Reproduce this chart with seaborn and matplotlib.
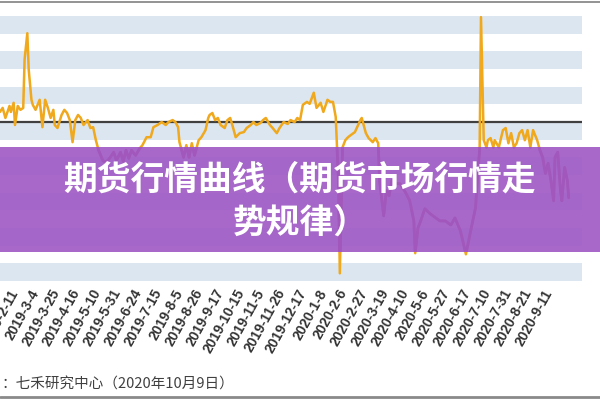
import matplotlib
matplotlib.use("Agg")
import matplotlib.pyplot as plt
import seaborn as sns
import pandas as pd
from matplotlib.patches import Rectangle
from matplotlib.lines import Line2D

# ---- data (trading-day index, spread value) ----
days = [-11, -9, -7, -4, -3, -1, 0, 2, 4, 6, 7, 9, 10, 12, 13, 15, 18, 20, 22, 24,
        26, 28, 29, 31, 34, 36, 38, 40, 42, 44, 46, 48, 50, 53, 55, 57, 59, 61, 64, 66,
        69, 72, 74, 77, 79, 81, 83, 85, 88, 91, 93, 96, 99, 101, 104, 107, 110, 112, 115, 117,
        119, 120, 123, 125, 127, 129, 131, 134, 136, 139, 141, 142, 144, 146, 148, 150, 153, 155, 157, 159,
        161, 164, 167, 169, 172, 174, 176, 179, 181, 183, 186, 188, 191, 193, 196, 199, 201, 204, 206, 208,
        210, 213, 215, 218, 220, 223, 225, 228, 230, 232, 234, 236, 237, 239, 241, 243, 245, 248, 250, 252,
        253, 256, 258, 261, 263, 265, 266, 269, 271, 273, 275, 277, 281, 285, 288, 291, 292, 294, 296, 299,
        303, 307, 310, 314, 318, 321, 325, 329, 332, 336, 338, 339, 340, 342, 344, 345, 347, 349, 350, 353,
        356, 358, 360, 362, 364, 366, 368, 370, 372, 374, 376, 378, 381, 383, 385, 387, 389, 391, 393, 394,
        396, 398, 399, 401, 403, 404]
spread = [57, 80, 23, 91, 57, 109, -17, 91, 69, 80, 354, 503, 297, 126, 97, 69, 126, -29, 126, 80,
          23, 69, -17, -34, 40, 69, 51, 11, -114, 11, 40, 23, -17, 11, -34, -29, -103, -160, -217, -229,
          -206, -171, -217, -171, -223, -160, -206, -160, -189, -149, -131, -86, -86, -29, -17, 0, -17, 0, 11, 0,
          -29, -114, -200, -131, -200, -120, -189, -103, -86, -46, 23, 40, 51, 11, 23, -17, -34, 11, 23, -29,
          -86, -63, -57, -34, -17, 0, -17, -6, 11, 23, -17, -34, -63, -34, 0, -11, 11, 0, 23, 11,
          97, 114, 103, 166, 80, 109, 57, 126, 114, 114, 29, -331, -857, -143, -103, -86, -74, -57, -23, 11,
          23, -63, -91, -114, -91, -120, -331, -531, -389, -417, -331, -349, -349, -400, -446, -560, -743, -600, -560, -491,
          -520, -543, -560, -560, -583, -543, -617, -749, -634, -486, -257, -160, 594, -103, -143, -103, -91, -143, -103, -143,
          -46, -34, -120, -63, -143, -120, -63, -46, -103, -46, -143, -46, -103, -160, -200, -291, -234, -331, -446, -200,
          -171, -389, -446, -257, -331, -429]

tick_days = [15 * k for k in range(27)]
tick_labels = ["2019-2-11", "2019-3-4", "2019-3-25", "2019-4-16", "2019-5-10", "2019-5-31",
               "2019-6-24", "2019-7-15", "2019-8-5", "2019-8-26", "2019-9-17", "2019-10-15",
               "2019-11-5", "2019-11-26", "2019-12-17", "2020-1-8", "2020-2-6", "2020-2-27",
               "2020-3-19", "2020-4-10", "2020-5-6", "2020-5-27", "2020-6-17", "2020-7-10",
               "2020-7-31", "2020-8-21", "2020-9-11"]
band_edges = [(-900, -800), (-700, -600), (-500, -400), (-300, -200), (-100, 0),
              (100, 200), (300, 400), (500, 600)]

title_line1 = "期货行情曲线（期货市场行情走"
title_line2 = "势规律）"
source_text = "：七禾研究中心（2020年10月9日）"

df = pd.DataFrame({"day": days, "spread": spread})

sns.set_theme(style="white")
plt.rcParams["font.family"] = ["Liberation Sans", "DejaVu Sans"]

fig = plt.figure(figsize=(6, 4), dpi=100)
fig.patch.set_facecolor("white")
ax = fig.add_axes([0, 1 - 282 / 400, 582 / 600, 282 / 400])
ax.set_facecolor("white")

for lo, hi in band_edges:
    ax.axhspan(lo, hi, color="#DCE6F1", lw=0, zorder=0)
ax.axhline(0, color="#404040", lw=1.6, zorder=1)

sns.lineplot(data=df, x="day", y="spread", ax=ax, color="#F0A81C", lw=1.8, zorder=2)

ax.set_xlim(-10.94, 413.7)
ax.set_ylim(-906, 691)
ax.set_yticks([])
ax.set_xticks(tick_days)
ax.set_xticklabels(tick_labels, rotation=61, ha="right", va="center",
                   rotation_mode="anchor", fontsize=10, fontweight="bold", color="#333333")
ax.tick_params(axis="x", length=0, pad=6)
ax.set_xlabel("")
ax.set_ylabel("")
for s in ax.spines.values():
    s.set_visible(False)

# banner overlay
banner = Rectangle((0, 0.37), 1, 0.2625, transform=fig.transFigure,
                   facecolor="#9E58C4", alpha=0.9, edgecolor="none", zorder=5)
fig.patches.append(banner)

# line tint visible through banner
clip_rect = Rectangle((0, 0.37), 1, 0.2625, transform=fig.transFigure, facecolor="none")
tint = Line2D(df["day"], df["spread"], color="#BE5072", lw=2.0, zorder=6)
ax.add_line(tint)
tint.set_clip_path(clip_rect)

fig.text(0.5, 0.5525, title_line1, ha="center", va="center", color="white",
         fontsize=24.3, fontweight="bold", family=["Noto Sans CJK SC", "DejaVu Sans"], zorder=10)
fig.text(0.5, 0.445, title_line2, ha="center", va="center", color="white",
         fontsize=24.3, fontweight="bold", family=["Noto Sans CJK SC", "DejaVu Sans"], zorder=10)

fig.text(0.003, 0.0375, source_text, ha="left", va="center", color="#404040",
         fontsize=10.5, family=["Noto Sans CJK SC", "DejaVu Sans"])

# border lines
fig.add_artist(Line2D([0, 1], [0.996, 0.996], transform=fig.transFigure, color="#808080", lw=1.2))
fig.add_artist(Line2D([0, 1], [0.008, 0.008], transform=fig.transFigure, color="#8a8a8a", lw=2.0))

fig.savefig("out.png", dpi=100)
